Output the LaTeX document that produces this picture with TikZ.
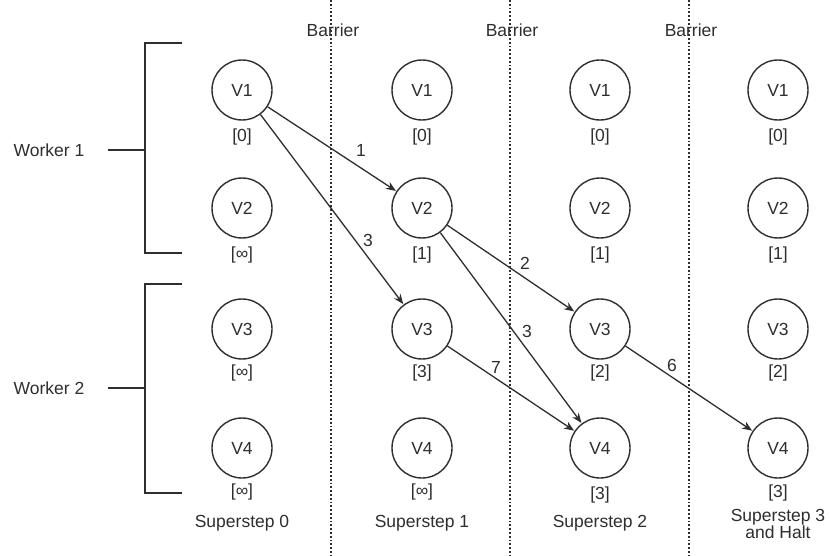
\documentclass[tikz,border=0pt]{standalone}
\usepackage{fontspec}
\setmainfont{Liberation Sans}
\usetikzlibrary{arrows.meta}
\definecolor{ink}{HTML}{2E2E2E}
\begin{document}
\begin{tikzpicture}[x=1pt,y=-1pt,
  txt/.style={font=\fontsize{17.5}{19}\selectfont, text=ink, inner sep=0pt},
  vtx/.style={circle, draw=ink, line width=1.4pt, minimum size=60pt, inner sep=0pt, font=\fontsize{17.5}{19}\selectfont, text=ink},
  val/.style={txt},
  barrierline/.style={draw=ink, line width=1.8pt, dash pattern=on 1.8pt off 2pt},
  bracket/.style={draw=ink, line width=2.2pt},
  msg/.style={draw=ink, line width=1.3pt, -{Stealth[length=10pt,width=8pt]}, shorten >=0.5pt},
  wlbl/.style={txt}
]
\useasboundingbox (0,0) rectangle (830,556);

% barriers between supersteps
\foreach \bx/\nm in {331/b1, 510/b2, 689/b3} {
  \coordinate (\nm top) at (\bx,0);
  \coordinate (\nm bot) at (\bx,556);
  \draw[barrierline] (\nm top) -- (\nm bot);
  \node[txt] (\nm lbl) at (\bx+2,30) {Barrier};
}

% worker brackets
\coordinate (w1a) at (182,43);  \coordinate (w1b) at (145,43);
\coordinate (w1c) at (145,253); \coordinate (w1d) at (182,253);
\coordinate (w1m) at (145,150);
\draw[bracket] (w1a) -- (w1b) -- (w1c) -- (w1d);
\node[wlbl] (worker1) at (49,150) {Worker 1};
\coordinate (w1t) at (108,150);
\draw[bracket] (w1t) -- (w1m);

\coordinate (w2a) at (182,284); \coordinate (w2b) at (145,284);
\coordinate (w2c) at (145,493); \coordinate (w2d) at (182,493);
\coordinate (w2m) at (145,388);
\draw[bracket] (w2a) -- (w2b) -- (w2c) -- (w2d);
\node[wlbl] (worker2) at (49,388) {Worker 2};
\coordinate (w2t) at (108,388);
\draw[bracket] (w2t) -- (w2m);

% vertices per superstep
\foreach \c/\cx in {0/242, 1/422, 2/600, 3/778} {
  \node[vtx] (a\c) at (\cx,90)  {V1};
  \node[vtx] (b\c) at (\cx,208) {V2};
  \node[vtx] (c\c) at (\cx,329) {V3};
  \node[vtx] (d\c) at (\cx,448) {V4};
}

% vertex values
\node[val] (va0) at (242,137) {[0]};
\node[val] (vb0) at (242,255) {[∞]};
\node[val] (vc0) at (242,373) {[∞]};
\node[val] (vd0) at (242,492) {[∞]};

\node[val] (va1) at (422,137) {[0]};
\node[val] (vb1) at (422,255) {[1]};
\node[val] (vc1) at (422,373) {[3]};
\node[val] (vd1) at (422,492) {[∞]};

\node[val] (va2) at (600,137) {[0]};
\node[val] (vb2) at (600,255) {[1]};
\node[val] (vc2) at (600,373) {[2]};
\node[val] (vd2) at (600,495) {[3]};

\node[val] (va3) at (778,137) {[0]};
\node[val] (vb3) at (778,255) {[1]};
\node[val] (vc3) at (778,373) {[2]};
\node[val] (vd3) at (778,493) {[3]};

% superstep captions
\node[txt] (s0) at (242,523) {Superstep 0};
\node[txt] (s1) at (422,523) {Superstep 1};
\node[txt] (s2) at (600,523) {Superstep 2};
\node[txt, align=center] (s3) at (778,524) {Superstep 3\\[-2pt]and Halt};

% messages
\draw[msg] (a0) -- (b1);
\draw[msg] (a0) -- (c1);
\draw[msg] (b1) -- (c2);
\draw[msg] (b1) -- (d2);
\draw[msg] (c1) -- (d2);
\draw[msg] (c2) -- (d3);

% message weights
\node[txt] (m1) at (361,150) {1};
\node[txt] (m2) at (368,240) {3};
\node[txt] (m3) at (525,263) {2};
\node[txt] (m4) at (527,331) {3};
\node[txt] (m5) at (496,367) {7};
\node[txt] (m6) at (672,365) {6};
\end{tikzpicture}
\end{document}
